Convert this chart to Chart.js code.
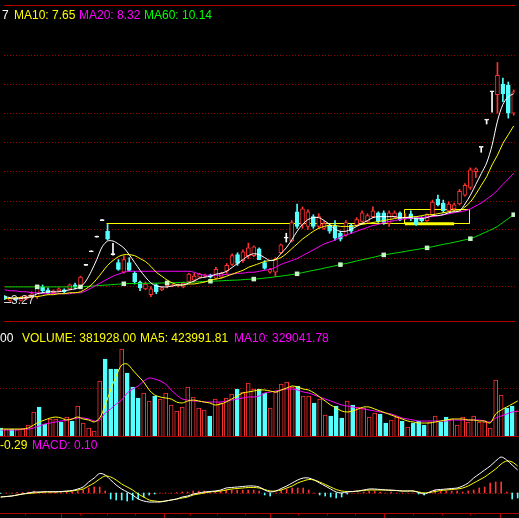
<!DOCTYPE html>
<html>
<head>
<meta charset="utf-8">
<script src="https://cdn.jsdelivr.net/npm/chart.js@4.4.0/dist/chart.umd.min.js"></script>
<style>
  html, body { margin: 0; padding: 0; background: #000; }
  #board { position: relative; width: 519px; height: 518px; overflow: hidden; background: #000; }
  #board canvas { position: absolute; left: 0; }
</style>
</head>
<body>
<div id="board">
  <canvas id="priceChart" width="519" height="326" style="top:0"></canvas>
  <canvas id="volChart" width="519" height="111" style="top:326px"></canvas>
  <canvas id="macdChart" width="519" height="81" style="top:437px"></canvas>
</div>
<script>
// --- daily bars (index 0..94) ---
const opens = [3.52, 3.32, 3.42, 3.32, 3.42, 3.47, 3.52, 4.02, 3.87, 3.72,
  3.82, 3.87, 3.92, 4.12, 4.02, 5.12, 5.82, 6.57, 7.42, 6.87,
  5.67, 5.27, 4.77, 5.27, 4.72, 4.27, 3.92, 3.62, 4.12, 3.87,
  4.07, 4.07, 4.07, 4.02, 4.27, 4.37, 4.52, 4.57, 4.62, 4.47,
  4.52, 4.82, 5.17, 5.67, 5.37, 5.62, 5.62, 5.97, 5.27, 4.77,
  4.77, 5.77, 6.52, 6.37, 7.87, 7.22, 7.12, 7.62, 7.12, 7.02,
  7.17, 7.12, 6.77, 6.67, 7.17, 7.17, 7.37, 7.37, 7.62, 7.82,
  7.82, 7.27, 7.62, 7.82, 7.52, 7.77, 7.57, 7.52, 7.42, 7.72,
  8.52, 8.32, 7.92, 8.02, 8.27, 8.72, 9.12, 9.92, 11.17, 12.57,
  14.02, 13.87, 14.42, 14.37, 12.92];
const highs = [3.57, 3.47, 3.47, 3.52, 3.57, 3.77, 4.12, 4.12, 3.97, 3.87,
  3.97, 3.92, 4.17, 4.22, 4.57, 5.12, 5.82, 6.57, 7.42, 7.22,
  6.25, 5.42, 5.62, 5.52, 4.82, 4.32, 4.27, 4.02, 4.17, 4.02,
  4.32, 4.17, 4.17, 4.27, 4.72, 4.72, 4.72, 4.67, 4.67, 5.02,
  4.77, 5.22, 5.72, 5.77, 5.92, 6.27, 6.12, 6.02, 5.37, 4.97,
  5.52, 6.22, 6.77, 7.42, 8.27, 8.12, 7.97, 7.72, 7.77, 7.37,
  7.22, 7.42, 6.87, 7.42, 7.27, 7.57, 7.92, 7.77, 8.12, 7.87,
  7.92, 7.92, 7.92, 7.87, 7.77, 7.92, 7.62, 7.62, 7.77, 8.47,
  8.72, 8.47, 8.37, 8.32, 9.02, 9.32, 10.12, 10.12, 11.17, 12.57,
  14.02, 15.52, 14.72, 14.52, 14.12];
const lows = [3.37, 3.27, 3.32, 3.30, 3.37, 3.42, 3.42, 3.72, 3.67, 3.67,
  3.77, 3.72, 3.87, 3.92, 3.97, 5.12, 5.82, 6.57, 7.42, 6.42,
  5.65, 4.87, 4.72, 4.82, 4.17, 3.82, 3.87, 3.52, 3.67, 3.82,
  3.97, 4.02, 4.02, 3.97, 4.22, 4.27, 4.47, 4.52, 4.47, 4.42,
  4.47, 4.72, 5.12, 5.12, 5.27, 5.47, 5.57, 5.42, 4.92, 4.72,
  4.57, 5.72, 6.32, 6.32, 7.02, 7.02, 6.97, 7.02, 7.02, 6.97,
  6.77, 6.42, 6.37, 6.62, 6.77, 7.12, 7.32, 7.32, 7.57, 7.32,
  7.22, 7.12, 7.57, 7.42, 7.47, 7.42, 7.17, 7.32, 7.37, 7.62,
  8.17, 7.82, 7.87, 7.92, 8.22, 8.67, 9.02, 9.62, 10.92, 12.37,
  12.97, 12.92, 13.52, 12.67, 12.82];
const closes = [3.42, 3.42, 3.37, 3.47, 3.52, 3.67, 4.02, 3.82, 3.72, 3.82,
  3.92, 3.77, 4.12, 4.02, 4.52, 5.12, 5.82, 6.57, 7.42, 6.47,
  5.67, 4.92, 5.42, 4.87, 4.27, 3.97, 4.17, 3.92, 3.77, 3.97,
  4.27, 4.12, 4.12, 4.22, 4.67, 4.57, 4.67, 4.62, 4.52, 4.92,
  4.72, 5.12, 5.62, 5.22, 5.82, 6.02, 6.07, 5.42, 4.97, 4.92,
  5.42, 6.17, 6.52, 7.32, 7.12, 8.02, 7.87, 7.12, 7.62, 7.27,
  6.87, 6.52, 6.47, 7.32, 6.87, 7.47, 7.82, 7.67, 7.92, 7.37,
  7.32, 7.82, 7.82, 7.47, 7.57, 7.52, 7.22, 7.42, 7.72, 8.37,
  8.22, 7.92, 8.27, 8.22, 8.92, 9.22, 10.02, 10.07, 11.17, 12.57,
  14.02, 14.87, 13.92, 12.92, 14.02];

const ma5 = [3.52, 3.47, 3.42, 3.42, 3.47, 3.52, 3.67, 3.72, 3.77, 3.77,
  3.77, 3.82, 3.87, 3.92, 4.02, 4.32, 4.82, 5.42, 6.07, 6.37,
  6.37, 6.22, 6.02, 5.67, 5.27, 4.87, 4.52, 4.22, 4.07, 4.02,
  4.02, 4.07, 4.12, 4.12, 4.22, 4.32, 4.47, 4.52, 4.57, 4.67,
  4.72, 4.82, 5.02, 5.22, 5.42, 5.62, 5.72, 5.67, 5.52, 5.37,
  5.42, 5.72, 6.02, 6.42, 6.87, 7.22, 7.47, 7.57, 7.57, 7.42,
  7.22, 6.97, 6.87, 6.87, 6.97, 7.12, 7.27, 7.42, 7.57, 7.62,
  7.62, 7.62, 7.62, 7.57, 7.57, 7.57, 7.52, 7.52, 7.57, 7.67,
  7.67, 7.72, 7.82, 7.87, 7.92, 8.27, 8.72, 9.27, 9.82, 10.37,
  11.27, 12.52, 13.37, 13.77, 13.92];
const ma10 = [3.42, 3.42, 3.47, 3.47, 3.47, 3.52, 3.52, 3.57, 3.62, 3.62,
  3.67, 3.67, 3.72, 3.72, 3.77, 3.92, 4.12, 4.42, 4.77, 5.12,
  5.37, 5.57, 5.67, 5.67, 5.62, 5.47, 5.32, 5.07, 4.77, 4.57,
  4.37, 4.22, 4.12, 4.12, 4.17, 4.17, 4.22, 4.27, 4.37, 4.42,
  4.47, 4.57, 4.67, 4.77, 4.87, 5.02, 5.12, 5.22, 5.32, 5.37,
  5.42, 5.52, 5.72, 5.97, 6.22, 6.47, 6.67, 6.87, 7.02, 7.12,
  7.17, 7.17, 7.12, 7.12, 7.12, 7.17, 7.22, 7.27, 7.32, 7.37,
  7.42, 7.47, 7.52, 7.57, 7.57, 7.62, 7.62, 7.67, 7.72, 7.72,
  7.77, 7.82, 7.87, 7.92, 7.92, 8.12, 8.37, 8.77, 9.22, 9.67,
  10.27, 10.77, 11.37, 11.82, 12.27];
const ma20 = [3.87, 3.82, 3.82, 3.77, 3.77, 3.72, 3.72, 3.67, 3.67, 3.67,
  3.67, 3.67, 3.67, 3.72, 3.72, 3.82, 3.97, 4.12, 4.27, 4.42,
  4.57, 4.67, 4.77, 4.82, 4.82, 4.82, 4.82, 4.82, 4.82, 4.82,
  4.82, 4.82, 4.82, 4.82, 4.82, 4.77, 4.67, 4.62, 4.62, 4.62,
  4.62, 4.67, 4.67, 4.72, 4.72, 4.77, 4.77, 4.82, 4.87, 4.92,
  5.02, 5.17, 5.27, 5.37, 5.47, 5.62, 5.77, 5.92, 6.07, 6.22,
  6.32, 6.42, 6.57, 6.67, 6.77, 6.87, 6.97, 7.07, 7.17, 7.22,
  7.32, 7.37, 7.42, 7.47, 7.52, 7.52, 7.57, 7.57, 7.62, 7.62,
  7.67, 7.72, 7.77, 7.82, 7.87, 7.92, 8.02, 8.17, 8.32, 8.52,
  8.72, 8.97, 9.27, 9.55, 9.85];
const ma60 = [4.02, 4.02, 4.02, 4.02, 4.02, 4.02, 4.02, 4.02, 4.02, 4.02,
  4.02, 4.02, 4.02, 4.02, 4.02, 4.04, 4.06, 4.08, 4.10, 4.12,
  4.14, 4.16, 4.18, 4.19, 4.19, 4.20, 4.20, 4.21, 4.21, 4.22,
  4.22, 4.23, 4.24, 4.25, 4.26, 4.27, 4.28, 4.30, 4.31, 4.32,
  4.33, 4.35, 4.36, 4.37, 4.39, 4.41, 4.42, 4.44, 4.47, 4.50,
  4.54, 4.57, 4.61, 4.65, 4.69, 4.75, 4.81, 4.87, 4.92, 4.98,
  5.04, 5.10, 5.16, 5.22, 5.28, 5.35, 5.41, 5.47, 5.53, 5.60,
  5.66, 5.70, 5.75, 5.79, 5.84, 5.89, 5.93, 5.98, 6.02, 6.08,
  6.14, 6.20, 6.25, 6.31, 6.37, 6.43, 6.49, 6.60, 6.72, 6.85,
  6.97, 7.12, 7.32, 7.52, 7.72];
const ma60Marks = [6, 14, 22, 30, 38, 46, 54, 62, 70, 78, 86, 94];

const volumes = [80000, 70000, 70000, 70000, 70000, 110000, 240000, 290000, 120000, 170000,
  170000, 140000, 190000, 150000, 300000, 130000, 80000, 50000, 550000, 770000,
  670000, 670000, 870000, 630000, 490000, 380000, 430000, 350000, 400000, 370000,
  430000, 310000, 250000, 290000, 490000, 390000, 280000, 260000, 200000, 370000,
  330000, 380000, 420000, 470000, 440000, 530000, 470000, 470000, 430000, 280000,
  440000, 520000, 540000, 490000, 500000, 400000, 400000, 330000, 370000, 210000,
  200000, 300000, 180000, 350000, 310000, 290000, 280000, 190000, 230000, 220000,
  130000, 160000, 190000, 150000, 90000, 130000, 150000, 110000, 140000, 200000,
  140000, 190000, 170000, 110000, 190000, 140000, 200000, 140000, 140000, 80000,
  560000, 410000, 280000, 300000, 250000];
const volMa5 = [70000, 70000, 70000, 70000, 70000, 80000, 110000, 140000, 160000, 180000,
  190000, 180000, 160000, 170000, 190000, 170000, 160000, 140000, 180000, 310000,
  460000, 600000, 710000, 720000, 660000, 600000, 540000, 460000, 410000, 390000,
  380000, 370000, 340000, 330000, 350000, 360000, 350000, 340000, 330000, 310000,
  320000, 340000, 370000, 400000, 430000, 440000, 450000, 460000, 460000, 450000,
  440000, 460000, 480000, 500000, 490000, 470000, 460000, 430000, 390000, 350000,
  310000, 280000, 250000, 240000, 250000, 270000, 290000, 290000, 270000, 250000,
  230000, 210000, 190000, 170000, 150000, 140000, 130000, 130000, 130000, 140000,
  150000, 160000, 170000, 170000, 170000, 160000, 160000, 150000, 150000, 130000,
  220000, 260000, 290000, 320000, 350000];
const volMa10 = [60000, 60000, 60000, 60000, 70000, 70000, 80000, 100000, 120000, 130000,
  140000, 150000, 160000, 170000, 180000, 180000, 170000, 150000, 160000, 230000,
  270000, 320000, 360000, 430000, 470000, 500000, 550000, 580000, 570000, 550000,
  520000, 460000, 410000, 370000, 360000, 350000, 350000, 340000, 340000, 340000,
  340000, 350000, 360000, 370000, 380000, 390000, 390000, 400000, 430000, 440000,
  450000, 460000, 470000, 470000, 460000, 440000, 430000, 410000, 390000, 370000,
  350000, 330000, 310000, 300000, 290000, 280000, 270000, 260000, 250000, 240000,
  230000, 220000, 200000, 180000, 170000, 160000, 150000, 150000, 150000, 150000,
  150000, 150000, 160000, 160000, 160000, 160000, 160000, 160000, 150000, 140000,
  180000, 200000, 220000, 240000, 250000];

const dif = [-0.04, -0.035, -0.03, -0.02, -0.01, 0, 0.01, 0.01, 0.013, 0.013,
  0.013, 0.015, 0.02, 0.025, 0.04, 0.06, 0.11, 0.15, 0.195, 0.18,
  0.13, 0.08, 0.04, 0.01, -0.02, -0.06, -0.08, -0.09, -0.09, -0.09,
  -0.08, -0.07, -0.06, -0.04, -0.03, -0.01, 0, 0.01, 0.015, 0.02,
  0.03, 0.05, 0.055, 0.06, 0.065, 0.07, 0.07, 0.06, 0.03, 0.01,
  0.02, 0.045, 0.07, 0.10, 0.13, 0.15, 0.15, 0.13, 0.10, 0.07,
  0.04, 0.01, 0, 0.01, 0.015, 0.02, 0.03, 0.04, 0.04, 0.035,
  0.03, 0.03, 0.025, 0.02, 0.02, 0.02, 0.005, -0.01, 0.01, 0.03,
  0.035, 0.04, 0.045, 0.05, 0.07, 0.10, 0.15, 0.19, 0.23, 0.27,
  0.32, 0.36, 0.33, 0.28, 0.23];
const dea = [-0.04, -0.035, -0.03, -0.02, -0.01, -0.005, 0, 0.005, 0.01, 0.01,
  0.01, 0.013, 0.015, 0.02, 0.03, 0.04, 0.07, 0.10, 0.14, 0.17,
  0.16, 0.13, 0.09, 0.06, 0.03, -0.01, -0.04, -0.07, -0.08, -0.085,
  -0.08, -0.07, -0.06, -0.05, -0.04, -0.02, -0.01, 0, 0.01, 0.015,
  0.02, 0.03, 0.04, 0.045, 0.05, 0.055, 0.055, 0.05, 0.035, 0.02,
  0.02, 0.03, 0.05, 0.07, 0.10, 0.12, 0.135, 0.13, 0.11, 0.085,
  0.06, 0.035, 0.02, 0.015, 0.015, 0.02, 0.025, 0.03, 0.03, 0.03,
  0.03, 0.025, 0.025, 0.02, 0.02, 0.02, 0.01, 0, 0.005, 0.015,
  0.025, 0.03, 0.035, 0.04, 0.05, 0.07, 0.10, 0.13, 0.16, 0.20,
  0.24, 0.29, 0.32, 0.31, 0.27];
const macdBar = [-0.005, 0, 0, 0.005, 0.005, 0.01, 0.02, 0.01, 0.005, 0.005,
  0.005, 0.005, 0.01, 0.01, 0.02, 0.03, 0.05, 0.06, 0.06, 0.02,
  -0.06, -0.07, -0.07, -0.08, -0.07, -0.06, -0.04, -0.02, -0.01, 0,
  0, 0, 0.005, 0.01, 0.01, 0.02, 0.02, 0.02, 0.01, 0.01,
  0.02, 0.03, 0.03, 0.03, 0.03, 0.03, 0.03, 0.02, -0.02, -0.03,
  0, 0.03, 0.04, 0.05, 0.05, 0.05, 0.03, 0, -0.02, -0.03,
  -0.04, -0.05, -0.04, -0.01, 0, 0, 0.01, 0.02, 0.02, 0.01,
  0, 0.01, 0, 0, 0, 0, -0.01, -0.02, 0.01, 0.03,
  0.02, 0.02, 0.02, 0.02, 0.01, 0.02, 0.03, 0.05, 0.06, 0.10,
  0.11, 0.11, 0.01, -0.06, -0.05];

// gridlines, annotations, ticks
const priceGrid = [4.05, 5.52, 6.99, 8.44, 9.97, 11.47, 12.91, 14.41, 15.89];
const volGrid = [480000];
const lowMark = { index: 1, price: 3.27, text: '3.27' };
const boxLine = { from: 18.8, to: 85.7, price: 7.31 };
const boxRect = { from: 73.8, to: 85.75, low: 7.31, high: 7.99 };
const boxBase = { from: 73.9, to: 83.0, price: 7.31 };
const bigTicks = [10.96, 29.7, 48.96, 69.7, 90.8];
const smallTicks = [4.4, 14.4, 19.4, 24.4, 34.4, 39.4, 44.4, 54.1, 59.3, 64.4, 75.0, 80.2, 85.3];

const priceLegend = [['7', '#ffffff', 2], ['MA10: 7.65', '#ffff00', 14], ['MA20: 8.32', '#ff00ff', 79], ['MA60: 10.14', '#00ff00', 144]];
const volLegend = [['00', '#ffffff', 0], ['VOLUME: 381928.00', '#ffff00', 22], ['MA5: 423991.81', '#ffff00', 140], ['MA10: 329041.78', '#ff00ff', 234]];
const macdLegend = [['-0.29', '#ffff00', 0], ['MACD: 0.10', '#ff00ff', 32]];

const RED = '#ff3232';
const CYAN = '#54ffff';
const BOX = '#ffff00';
const GRID = '#9a0000';
const FRAME = '#b00000';
const FONT = '12px "Liberation Sans", Arial, sans-serif';
const X_MIN = -0.127, X_MAX = 94.24;

function candleColor(i) {
    if (closes[i] > opens[i]) return RED;
    if (closes[i] < opens[i]) return CYAN;
    return '#ffffff';
}
function volColor(i) {
    if (closes[i] > opens[i]) return RED;
    if (closes[i] < opens[i]) return CYAN;
    return (i > 0 && closes[i] < closes[i - 1]) ? CYAN : RED;
}
const pts = arr => arr.map((v, i) => ({ x: i, y: v }));

function baseOptions(yMin, yMax) {
    return {
        responsive: false,
        animation: false,
        events: [],
        layout: { padding: 0 },
        plugins: { legend: { display: false }, tooltip: { enabled: false } },
        scales: {
            // bar charts pad the index axis by default, turn that off so bars sit on exact columns
            x: { type: 'linear', min: X_MIN, max: X_MAX, offset: false, display: false },
            y: { type: 'linear', min: yMin, max: yMax, display: false }
        }
    };
}

function drawLegend(ctx, items, baseline) {
    ctx.font = FONT;
    ctx.textBaseline = 'alphabetic';
    items.forEach(([t, c, x]) => { ctx.fillStyle = c; ctx.fillText(t, x, baseline); });
}
function hLine(ctx, area, py, color, dash) {
    ctx.strokeStyle = color;
    ctx.lineWidth = 1;
    ctx.setLineDash(dash || []);
    ctx.beginPath();
    ctx.moveTo(area.left, py);
    ctx.lineTo(area.right, py);
    ctx.stroke();
    ctx.setLineDash([]);
}
const snap = v => Math.round(v) + 0.5;

// --- price panel ---
const pricePanel = {
    id: 'pricePanel',
    beforeDatasetsDraw(chart) {
        const { ctx, chartArea, scales: { x, y } } = chart;
        ctx.save();
        priceGrid.forEach(v => hLine(ctx, chartArea, snap(y.getPixelForValue(v)), GRID, [1, 2]));
        hLine(ctx, chartArea, 5.5, FRAME);
        hLine(ctx, chartArea, chartArea.bottom - 0.5, FRAME);

        // yellow consolidation box
        ctx.strokeStyle = BOX;
        ctx.lineWidth = 1;
        const ly = snap(y.getPixelForValue(boxLine.price));
        const bx1 = snap(x.getPixelForValue(boxRect.from)), bx2 = snap(x.getPixelForValue(boxRect.to));
        const by1 = snap(y.getPixelForValue(boxRect.high)), by2 = snap(y.getPixelForValue(boxRect.low));
        ctx.beginPath();
        ctx.moveTo(snap(x.getPixelForValue(boxLine.from)), ly);
        ctx.lineTo(snap(x.getPixelForValue(boxLine.to)), ly);
        ctx.rect(bx1, by1, bx2 - bx1, by2 - by1);
        ctx.stroke();
        ctx.lineWidth = 3;
        const tb = y.getPixelForValue(boxBase.price) + 1;
        ctx.beginPath();
        ctx.moveTo(x.getPixelForValue(boxBase.from), tb);
        ctx.lineTo(x.getPixelForValue(boxBase.to), tb);
        ctx.stroke();
        ctx.restore();
    },
    afterDatasetsDraw(chart) {
        const { ctx, chartArea, scales: { x, y } } = chart;
        ctx.save();
        const py = snap(y.getPixelForValue(lowMark.price));
        const px = x.getPixelForValue(lowMark.index);
        ctx.strokeStyle = '#d8d8d8';
        ctx.lineWidth = 1;
        ctx.beginPath();
        ctx.moveTo(chartArea.left, py);
        ctx.lineTo(px + 1, py);
        ctx.stroke();
        ctx.font = FONT;
        ctx.fillStyle = '#d8d8d8';
        ctx.textBaseline = 'middle';
        ctx.fillText(lowMark.text, px + 1, py - 2);
        drawLegend(ctx, priceLegend, 19);
        ctx.restore();
    }
};

const maLine = (data, color) => ({
    type: 'line', data: pts(data), borderColor: color, borderWidth: 1,
    pointRadius: 0, tension: 0.3, order: 0
});

new Chart(document.getElementById('priceChart'), {
    type: 'bar',
    data: {
        datasets: [
            maLine(ma5, '#ffffff'),
            maLine(ma10, '#ffff00'),
            maLine(ma20, '#ff00ff'),
            Object.assign(maLine(ma60, '#00e000'), {
                pointStyle: 'rect',
                pointRadius: ma60.map((_, i) => ma60Marks.includes(i) ? 3.2 : 0),
                pointBackgroundColor: '#c8f5c8',
                pointBorderColor: '#c8f5c8',
                pointBorderWidth: 0
            }),
            {
                type: 'bar',
                data: opens.map((o, i) => ({ x: i, y: [o, closes[i]] })),
                backgroundColor: opens.map((o, i) => closes[i] > o ? '#000000' : candleColor(i)),
                borderColor: opens.map((o, i) => candleColor(i)),
                borderWidth: 1,
                borderSkipped: false,
                grouped: false,
                barPercentage: 1,
                categoryPercentage: 1,
                maxBarThickness: 4,
                minBarLength: 1,
                order: 1
            },
            {
                type: 'bar',
                data: highs.map((h, i) => ({ x: i, y: [lows[i], h] })),
                backgroundColor: highs.map((h, i) => candleColor(i)),
                borderWidth: 0,
                grouped: false,
                barPercentage: 1,
                categoryPercentage: 1,
                maxBarThickness: 1,
                minBarLength: 1,
                order: 2
            }
        ]
    },
    options: baseOptions(2.22, 18.52),
    plugins: [pricePanel]
});

// --- volume panel ---
const volPanel = {
    id: 'volPanel',
    beforeDatasetsDraw(chart) {
        const { ctx, chartArea, scales: { y } } = chart;
        ctx.save();
        volGrid.forEach(v => hLine(ctx, chartArea, snap(y.getPixelForValue(v)), GRID, [1, 2]));
        ctx.restore();
    },
    afterDatasetsDraw(chart) {
        const { ctx, chartArea, scales: { y } } = chart;
        ctx.save();
        hLine(ctx, chartArea, snap(y.getPixelForValue(0)), FRAME);
        drawLegend(ctx, volLegend, 15.5);
        ctx.restore();
    }
};

new Chart(document.getElementById('volChart'), {
    type: 'bar',
    data: {
        datasets: [
            { type: 'line', data: pts(volMa5), borderColor: '#ffff00', borderWidth: 1, pointRadius: 0, tension: 0.3, order: 0 },
            { type: 'line', data: pts(volMa10), borderColor: '#ff00ff', borderWidth: 1, pointRadius: 0, tension: 0.3, order: 0 },
            {
                type: 'bar',
                data: pts(volumes),
                backgroundColor: volumes.map((v, i) => volColor(i) === RED ? '#000000' : CYAN),
                borderColor: volumes.map((v, i) => volColor(i)),
                borderWidth: 1,
                borderSkipped: 'start',
                grouped: false,
                barPercentage: 1,
                categoryPercentage: 1,
                maxBarThickness: 4,
                order: 1
            }
        ]
    },
    options: baseOptions(-10000, 1100000),
    plugins: [volPanel]
});

// --- MACD panel ---
const macdPanel = {
    id: 'macdPanel',
    beforeDatasetsDraw(chart) {
        const { ctx, chartArea, scales: { y } } = chart;
        ctx.save();
        hLine(ctx, chartArea, snap(y.getPixelForValue(0)), GRID, [1, 2]);
        ctx.restore();
    },
    afterDatasetsDraw(chart) {
        const { ctx, chartArea, scales: { x } } = chart;
        ctx.save();
        const base = chartArea.bottom - 4.5;
        hLine(ctx, chartArea, base, FRAME);
        ctx.strokeStyle = FRAME;
        ctx.beginPath();
        bigTicks.forEach(t => { const px = snap(x.getPixelForValue(t)); ctx.moveTo(px, base); ctx.lineTo(px, chartArea.bottom); });
        smallTicks.forEach(t => { const px = snap(x.getPixelForValue(t)); ctx.moveTo(px, base); ctx.lineTo(px, base + 2); });
        ctx.stroke();
        drawLegend(ctx, macdLegend, 12);
        ctx.restore();
    }
};

new Chart(document.getElementById('macdChart'), {
    type: 'bar',
    data: {
        datasets: [
            { type: 'line', data: pts(dif), borderColor: '#ffffff', borderWidth: 1, pointRadius: 0, tension: 0.3, order: 0 },
            { type: 'line', data: pts(dea), borderColor: '#ffff00', borderWidth: 1, pointRadius: 0, tension: 0.3, order: 0 },
            {
                type: 'bar',
                data: pts(macdBar),
                backgroundColor: macdBar.map(v => v >= 0 ? RED : CYAN),
                borderWidth: 0,
                grouped: false,
                barPercentage: 1,
                categoryPercentage: 1,
                maxBarThickness: 1,
                order: 1
            }
        ]
    },
    options: baseOptions(-0.25, 0.56),
    plugins: [macdPanel]
});
</script>
</body>
</html>
